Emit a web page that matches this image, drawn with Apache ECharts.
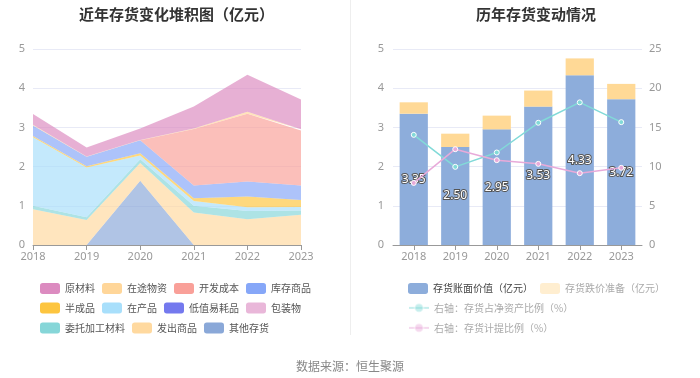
<!DOCTYPE html>
<html>
<head>
<meta charset="utf-8">
<script src="https://cdn.jsdelivr.net/npm/echarts@6/dist/echarts.min.js"></script>
<style>
html,body{margin:0;padding:0;background:#fff;}
#main{width:700px;height:378px;}
</style>
</head>
<body>
<div id="main"></div>
<script>
// ---- data ----
var years = ['2018','2019','2020','2021','2022','2023'];
// left: stacked inventory components (亿元), bottom to top
var otherInv      = [0, 0, 1.64, 0, 0, 0];            // 其他存货
var issuedGoods   = [0.91, 0.64, 0.45, 0.83, 0.66, 0.77]; // 发出商品
var consignMat    = [0.09, 0.07, 0.10, 0.17, 0.21, 0.11]; // 委托加工材料
var packaging     = [0, 0, 0, 0, 0, 0];                // 包装物
var lowValue      = [0, 0, 0, 0, 0, 0];                // 低值易耗品
var wip           = [1.75, 1.27, 0.09, 0.12, 0.09, 0.09]; // 在产品
var semiFinished  = [0.03, 0.03, 0.06, 0.07, 0.28, 0.18]; // 半成品
var finishedGoods = [0.27, 0.24, 0.33, 0.33, 0.38, 0.37]; // 库存商品
var devCost       = [0, 0, 0, 1.44, 1.73, 1.40];       // 开发成本
var inTransit     = [0.02, 0.01, 0.01, 0.01, 0.05, 0.03]; // 在途物资
var rawMaterial   = [0.27, 0.23, 0.29, 0.56, 0.94, 0.76]; // 原材料

// right
var bookValue   = [3.35, 2.50, 2.95, 3.53, 4.33, 3.72]; // 存货账面价值
var reserve     = [0.29, 0.34, 0.35, 0.41, 0.43, 0.39]; // 存货跌价准备
var ratioNet    = [14.05, 9.97, 11.80, 15.59, 18.19, 15.67]; // 存货占净资产比例
var ratioProv   = [7.92, 12.22, 10.82, 10.35, 9.16, 9.84];  // 存货计提比例

var leftNames = ['原材料','在途物资','开发成本','库存商品','半成品','在产品','低值易耗品','包装物','委托加工材料','发出商品','其他存货'];
var leftColors = {
  '原材料':'#dc8bc0','在途物资':'#ffd699','开发成本':'#f9a099','库存商品':'#86a7f8',
  '半成品':'#fdc53f','在产品':'#a8dffb','低值易耗品':'#7479ee','包装物':'#e9b7d9',
  '委托加工材料':'#86d6d8','发出商品':'#ffd99f','其他存货':'#8aa8d8'
};
var stackOrder = [
  ['其他存货', otherInv], ['发出商品', issuedGoods], ['委托加工材料', consignMat],
  ['包装物', packaging], ['低值易耗品', lowValue], ['在产品', wip], ['半成品', semiFinished],
  ['库存商品', finishedGoods], ['开发成本', devCost], ['在途物资', inTransit], ['原材料', rawMaterial]
];

var chart = echarts.init(document.getElementById('main'), null, {renderer:'canvas'});

var series = stackOrder.map(function(s){
  return {
    name: s[0], type: 'line', stack: 'inv', xAxisIndex: 0, yAxisIndex: 0,
    data: s[1], symbol: 'none', smooth: false,
    lineStyle: {width: 0},
    itemStyle: {color: leftColors[s[0]]},
    areaStyle: {color: leftColors[s[0]], opacity: 0.68},
    emphasis: {disabled: true}
  };
});

series.push({
  name: '存货账面价值（亿元）', type: 'bar', stack: 'bar', xAxisIndex: 1, yAxisIndex: 1,
  data: bookValue, barWidth: '68%',
  itemStyle: {color: '#8daddb'},
  label: {show: true, position: 'inside', formatter: function(p){return p.value.toFixed(2);},
    color: '#fff', fontSize: 12, textBorderColor: '#555', textBorderWidth: 2, fontFamily: 'Noto Sans'}
});
series.push({
  name: '存货跌价准备（亿元）', type: 'bar', stack: 'bar', xAxisIndex: 1, yAxisIndex: 1,
  data: reserve, barWidth: '68%', itemStyle: {color: '#ffd996'}
});
series.push({
  name: '右轴：存货占净资产比例（%）', type: 'line', xAxisIndex: 1, yAxisIndex: 2,
  data: ratioNet, symbol: 'circle', symbolSize: 5,
  lineStyle: {color: '#82dad8', width: 1.5},
  itemStyle: {color: '#82dad8', borderColor: '#fff', borderWidth: 1}
});
series.push({
  name: '右轴：存货计提比例（%）', type: 'line', xAxisIndex: 1, yAxisIndex: 2,
  data: ratioProv, symbol: 'circle', symbolSize: 5,
  lineStyle: {color: '#e8aad9', width: 1.5},
  itemStyle: {color: '#e8aad9', borderColor: '#fff', borderWidth: 1}
});

var axisLabelStyle = {color: '#999', fontSize: 11, fontFamily: 'Noto Sans'};
var legendBase = {
  itemWidth: 20, itemHeight: 11, itemGap: 7, selectedMode: false,
  textStyle: {color: '#555', fontSize: 10, fontFamily: 'Noto Sans CJK SC'},
  icon: 'roundRect'
};
function mkLegend(left, top, names, extra){
  var o = Object.assign({}, legendBase, {left: left, top: top, data: names});
  return Object.assign(o, extra || {});
}

var option = {
  backgroundColor: '#fff',
  animation: false,
  title: [
    {text: '近年存货变化堆积图（亿元）', left: 74, top: 2,
     textStyle: {fontSize: 15, fontWeight: 'bold', color: '#333', fontFamily: 'Noto Sans CJK SC'}},
    {text: '历年存货变动情况', left: 471, top: 2,
     textStyle: {fontSize: 15, fontWeight: 'bold', color: '#333', fontFamily: 'Noto Sans CJK SC'}},
    {text: '数据来源：恒生聚源', left: 'center', top: 355,
     textStyle: {fontSize: 12, fontWeight: 'normal', color: '#888', fontFamily: 'Noto Sans CJK SC'}}
  ],
  legend: [
    mkLegend(35, 278, ['原材料','在途物资','开发成本','库存商品']),
    mkLegend(35, 297.5, ['半成品','在产品','低值易耗品','包装物']),
    mkLegend(35, 317.5, ['委托加工材料','发出商品','其他存货']),
    mkLegend(403, 278, [
      {name:'存货账面价值（亿元）'},
      {name:'存货跌价准备（亿元）', itemStyle:{opacity:0.45}, textStyle:{color:'#aaa'}}
    ], {itemGap: 7, textStyle: {color: '#444', fontSize: 10, fontFamily: 'Noto Sans CJK SC'}}),
    mkLegend(403, 297.5, [{name:'右轴：存货占净资产比例（%）', itemStyle:{opacity:0.45}, lineStyle:{opacity:0.45}}],
      {icon: null, textStyle: {color: '#aaa', fontSize: 10, fontFamily: 'Noto Sans CJK SC'}}),
    mkLegend(403, 317.5, [{name:'右轴：存货计提比例（%）', itemStyle:{opacity:0.45}, lineStyle:{opacity:0.45}}],
      {icon: null, textStyle: {color: '#aaa', fontSize: 10, fontFamily: 'Noto Sans CJK SC'}})
  ],
  grid: [
    {left: 33, right: 399, top: 49, bottom: 133, containLabel: false},
    {left: 393, right: 58, top: 49, bottom: 133, containLabel: false}
  ],
  xAxis: [
    {type: 'category', gridIndex: 0, data: years, boundaryGap: false,
     axisLine: {lineStyle: {color: '#999'}}, axisTick: {show: true, lineStyle: {color: '#999'}},
     axisLabel: Object.assign({margin: 6}, axisLabelStyle), splitLine: {show: false}},
    {type: 'category', gridIndex: 1, data: years, boundaryGap: true,
     axisLine: {lineStyle: {color: '#999'}}, axisTick: {show: true, alignWithLabel: true, lineStyle: {color: '#999'}},
     axisLabel: Object.assign({margin: 6}, axisLabelStyle), splitLine: {show: false}}
  ],
  yAxis: [
    {type: 'value', gridIndex: 0, min: 0, max: 5, interval: 1,
     axisLine: {show: false}, axisTick: {show: false},
     axisLabel: Object.assign({margin: 8}, axisLabelStyle),
     splitLine: {lineStyle: {color: '#e8eaf6'}}},
    {type: 'value', gridIndex: 1, min: 0, max: 5, interval: 1,
     axisLine: {show: false}, axisTick: {show: false},
     axisLabel: Object.assign({margin: 9}, axisLabelStyle),
     splitLine: {lineStyle: {color: '#e8eaf6'}}},
    {type: 'value', gridIndex: 1, position: 'right', min: 0, max: 25, interval: 5,
     axisLine: {show: false}, axisTick: {show: false},
     axisLabel: Object.assign({margin: 7}, axisLabelStyle),
     splitLine: {show: false}}
  ],
  graphic: [
    {type: 'line', shape: {x1: 350.5, y1: 0, x2: 350.5, y2: 335}, style: {stroke: '#eee', lineWidth: 1}}
  ],
  series: series
};
chart.setOption(option);
</script>
</body>
</html>
